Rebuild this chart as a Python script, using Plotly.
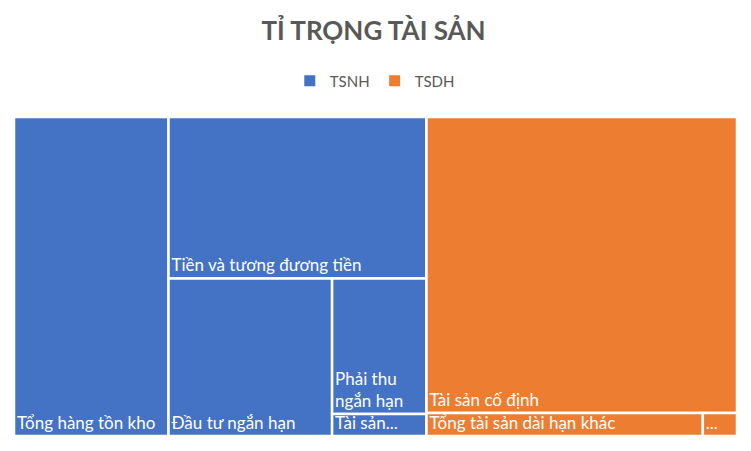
import plotly.graph_objects as go

# Tỉ trọng tài sản (values read from tile areas, tỷ đồng)
groups = ['TSNH', 'TSDH']
group_colors = ['#4472C4', '#ED7D31']

tsnh_items = ['Tổng hàng tồn kho', 'Tiền và tương đương tiền', 'Đầu tư ngắn hạn',
              'Phải thu ngắn hạn', 'Tài sản ngắn hạn khác']
tsnh_values = [213.7, 180.5, 111.8, 55.5, 9.0]
tsnh_text = ['Tổng hàng tồn kho', 'Tiền và tương đương tiền', 'Đầu tư ngắn hạn',
             'Phải thu<br>ngắn hạn', 'Tài sản...']

tsdh_items = ['Tài sản cố định', 'Tổng tài sản dài hạn khác', 'Bất động sản đầu tư']
tsdh_values = [398.6, 27.5, 3.4]
tsdh_text = ['Tài sản cố định', 'Tổng tài sản dài hạn khác', '...']

FONT = 'Lato'
GREY = '#595959'

# build hierarchy
ids = ['root'] + groups
labels = ['Tổng tài sản'] + groups
parents = [''] + ['root'] * len(groups)
values = [0] + [0] * len(groups)
colors = ['white'] + group_colors
texts = [''] + [''] * len(groups)

for grp, col, items, vals, txt in [
    ('TSNH', group_colors[0], tsnh_items, tsnh_values, tsnh_text),
    ('TSDH', group_colors[1], tsdh_items, tsdh_values, tsdh_text),
]:
    for name, v, t in zip(items, vals, txt):
        ids.append(grp + '/' + name)
        labels.append(name)
        parents.append(grp)
        values.append(v)
        colors.append(col)
        texts.append(t)

fig = go.Figure()
fig.add_trace(go.Treemap(
    ids=ids, labels=labels, parents=parents, values=values,
    branchvalues='remainder',
    text=texts, texttemplate='%{text}',
    textposition='bottom left',
    textfont=dict(family=FONT, size=17, color='white'),
    marker=dict(colors=colors, line=dict(color='white', width=2.5),
                pad=dict(t=0, l=0, r=0, b=0)),
    tiling=dict(packing='binary', pad=0),
    pathbar=dict(visible=False),
    root_color='white',
    sort=True,
    hoverinfo='label+value',
))

# legend entries
for grp, col in zip(groups, group_colors):
    fig.add_trace(go.Scatter(
        x=[None], y=[None], mode='markers', name=grp,
        marker=dict(symbol='square', size=11, color=col),
    ))

# page body has an 8px margin, so the figure is 8px smaller than the window
fig.update_layout(
    width=743, height=443,
    margin=dict(l=6, r=14, t=109, b=15),
    paper_bgcolor='white', plot_bgcolor='white',
    title=dict(text='<b>TỈ TRỌNG TÀI SẢN</b>', x=0.492, xanchor='center',
               y=0.948, yanchor='middle',
               font=dict(family=FONT, size=26, color=GREY)),
    legend=dict(orientation='h', x=0.499, xanchor='center', y=1.113, yanchor='middle',
                font=dict(family=FONT, size=15, color=GREY),
                itemwidth=30, tracegroupgap=0),
    uniformtext=dict(minsize=17, mode='show'),
    xaxis=dict(visible=False), yaxis=dict(visible=False),
    font=dict(family=FONT),
)

fig.write_html('out.html')
